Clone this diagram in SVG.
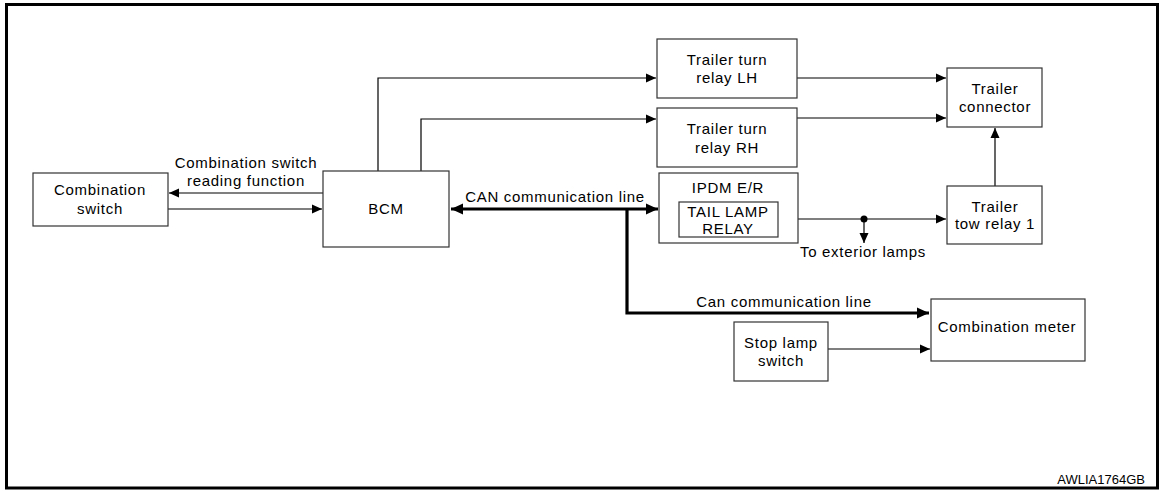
<svg xmlns="http://www.w3.org/2000/svg" width="1161" height="492" viewBox="0 0 1161 492">
<style>
.box{fill:#fff;stroke:#333;stroke-width:1.2}
.t{font-family:"Liberation Sans",Arial,sans-serif;font-size:15px;fill:#000;text-anchor:middle;letter-spacing:0.7px}
.w{fill:none;stroke:#000;stroke-width:1.2}
.k{fill:none;stroke:#000;stroke-width:3.2}
</style>
<defs>
<marker id="a" viewBox="0 0 10 10" refX="10" refY="5" markerWidth="10" markerHeight="10" markerUnits="userSpaceOnUse" orient="auto"><path d="M0,0.5 L10,5 L0,9.5 Z" fill="#000"/></marker>
<marker id="ak" viewBox="0 0 10 10" refX="10" refY="5" markerWidth="12" markerHeight="12" markerUnits="userSpaceOnUse" orient="auto-start-reverse"><path d="M0,0.5 L10,5 L0,9.5 Z" fill="#000"/></marker>
</defs>
<rect x="6.5" y="4.5" width="1151" height="483.5" fill="#fff" stroke="#000" stroke-width="3"/>
<g id="connectors">
<line class="w" x1="323" y1="193" x2="169" y2="193" marker-end="url(#a)"/>
<line class="w" x1="168" y1="209" x2="322" y2="209" marker-end="url(#a)"/>
<polyline class="w" points="378,171 378,78 656,78" marker-end="url(#a)"/>
<polyline class="w" points="421,171 421,119 656,119" marker-end="url(#a)"/>
<line class="w" x1="797" y1="78" x2="946" y2="78" marker-end="url(#a)"/>
<line class="w" x1="797" y1="118" x2="946" y2="118" marker-end="url(#a)"/>
<line class="w" x1="995" y1="186" x2="995" y2="128" marker-end="url(#a)"/>
<line class="w" x1="778" y1="219" x2="946" y2="219" marker-end="url(#a)"/>
<line class="w" x1="864" y1="219" x2="864" y2="243" marker-end="url(#a)"/>
<circle cx="864" cy="219" r="3.5" fill="#000"/>
<line class="k" x1="451" y1="209" x2="658" y2="209" marker-start="url(#ak)" marker-end="url(#ak)"/>
<polyline class="k" points="627,209 627,313 929,313" marker-end="url(#ak)"/>
<line class="w" x1="828" y1="349" x2="930" y2="349" marker-end="url(#a)"/>
<text class="t" x="246" y="168">Combination switch</text>
<text class="t" x="246" y="186">reading function</text>
<text class="t" x="555" y="202">CAN communication line</text>
<text class="t" x="784" y="307">Can communication line</text>
<text class="t" x="863" y="257">To exterior lamps</text>
</g>
<g id="combination-switch"><rect class="box" x="33" y="173" width="135" height="53"/><text class="t" x="100" y="195">Combination</text><text class="t" x="100" y="214">switch</text></g>
<g id="bcm"><rect class="box" x="323" y="171" width="126" height="76"/><text class="t" x="386" y="214">BCM</text></g>
<g id="relay-lh"><rect class="box" x="657" y="39" width="140" height="59"/><text class="t" x="727" y="65">Trailer turn</text><text class="t" x="727" y="83">relay LH</text></g>
<g id="relay-rh"><rect class="box" x="657" y="108" width="140" height="59"/><text class="t" x="727" y="134">Trailer turn</text><text class="t" x="727" y="153">relay RH</text></g>
<g id="ipdm"><rect class="box" x="659" y="173" width="139" height="70"/><text class="t" x="728" y="193">IPDM E/R</text>
<g id="tail-lamp-relay"><rect class="box" x="679" y="202" width="99" height="35"/><text class="t" x="728" y="217">TAIL LAMP</text><text class="t" x="728" y="234">RELAY</text></g></g>
<g id="trailer-connector"><rect class="box" x="947" y="68" width="95" height="59"/><text class="t" x="995" y="94">Trailer</text><text class="t" x="995" y="112">connector</text></g>
<g id="tow-relay"><rect class="box" x="947" y="186" width="95" height="58"/><text class="t" x="995" y="212">Trailer</text><text class="t" x="995" y="229">tow relay 1</text></g>
<g id="combination-meter"><rect class="box" x="931" y="299" width="154" height="62"/><text class="t" x="1007" y="332">Combination meter</text></g>
<g id="stop-lamp-switch"><rect class="box" x="734" y="322" width="94" height="59"/><text class="t" x="781" y="348">Stop lamp</text><text class="t" x="781" y="366">switch</text></g>
<text x="1145" y="484" style="font-family:'Liberation Sans',Arial,sans-serif;font-size:13px;text-anchor:end">AWLIA1764GB</text>
</svg>
